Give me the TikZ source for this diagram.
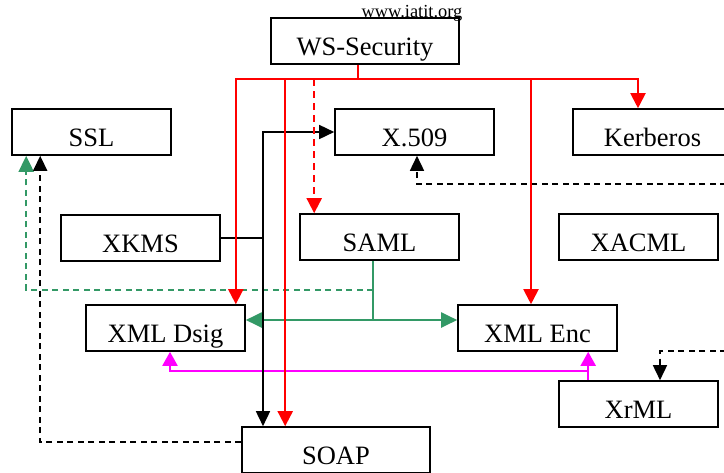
\documentclass[tikz,border=0pt]{standalone}
\usepackage{fontspec}
\setmainfont{Liberation Serif}
\usetikzlibrary{arrows.meta}
\definecolor{seagreen}{RGB}{51,153,102}
\definecolor{pinkline}{RGB}{255,0,255}
\tikzset{
  box/.style={draw, line width=1.6pt, fill=white, inner sep=0pt, minimum width=159pt,
    text height=37pt, text depth=9pt, font=\fontsize{26.5}{30}\selectfont},
  redline/.style={red, line width=2pt, >={Triangle[length=15pt,width=15pt]}},
  blkline/.style={black, line width=1.6pt, >={Triangle[length=15pt,width=14pt]}},
  dashblk/.style={blkline, dash pattern=on 6pt off 4.5pt},
  grnline/.style={seagreen, line width=2pt, >={Triangle[length=16pt,width=15pt]}},
  magline/.style={pinkline, line width=2pt, >={Triangle[length=14pt,width=15pt]}}
}
\begin{document}
\begin{tikzpicture}[x=1pt, y=-1pt]
  \useasboundingbox (0,0) rectangle (724,472);
  \clip (0,0) rectangle (724,472);
  % boxes
  \node[box, minimum width=188pt] (ws) at (365,41) {WS-Security};
  \node[font=\fontsize{18.4}{20}\selectfont, anchor=base] (site) at (412,17) {www.iatit.org};
  \node[box] (ssl)   at (91.5,132)  {SSL};
  \node[box] (x509)  at (414.5,132) {X.509};
  \node[box] (kerb)  at (652.5,132) {Kerberos};
  \node[box] (xkms)  at (140.5,238) {XKMS};
  \node[box] (saml)  at (379.5,237) {SAML};
  \node[box] (xacml) at (638.5,237) {XACML};
  \node[box] (dsig)  at (165.5,328) {XML Dsig};
  \node[box] (enc)   at (537.5,328) {XML Enc};
  \node[box] (xrml)  at (638.5,404) {XrML};
  \node[box, minimum width=188pt] (soap) at (336,450) {SOAP};
  % joints and free ends
  \coordinate (bus) at (358,79);
  \coordinate (trunk) at (263,238);
  \coordinate (grnjoin) at (373,320);
  \coordinate (grndash) at (373,290);
  \coordinate (magjoin) at (589,371);
  \coordinate (rimA) at (726,184);
  \coordinate (rimB) at (726,351);
  % green
  \draw[grnline] ([xshift=-6.5]saml.south) -- (grnjoin);
  \draw[grnline,<->] (dsig.east |- grnjoin) -- (enc.west |- grnjoin);
  \draw[grnline,dash pattern=on 6pt off 4.5pt,->] (grndash) -| ([xshift=15]ssl.south west);
  % magenta
  \draw[magline,->] ([xshift=30]xrml.north west) -- ([xshift=30]xrml.north west |- enc.south);
  \draw[magline,->] (magjoin) -| ([xshift=4.5]dsig.south);
  % black
  \draw[blkline,<->] (soap.north -| trunk) |- (x509.west);
  \draw[blkline] (xkms.east) -- (trunk);
  \draw[dashblk,->] ([yshift=8pt]soap.west) -| ([xshift=29]ssl.south west);
  \draw[dashblk,->] (rimA) -| ([xshift=2.5]x509.south);
  \draw[dashblk,->] (rimB) -| ([xshift=21.5]xrml.north);
  % red
  \draw[redline] ([xshift=-7]ws.south) -- (bus);
  \draw[redline,->] (bus) -| ([xshift=-10]dsig.north east);
  \draw[redline,->] (bus) -| ([xshift=44]soap.north west);
  \draw[redline,dash pattern=on 7pt off 5pt,->] ([xshift=15]saml.north west |- bus) -- ([xshift=15]saml.north west);
  \draw[redline,->] (bus) -| ([xshift=-6.5]enc.north);
  \draw[redline,->] (bus) -| ([xshift=-14.5]kerb.north);
\end{tikzpicture}
\end{document}
